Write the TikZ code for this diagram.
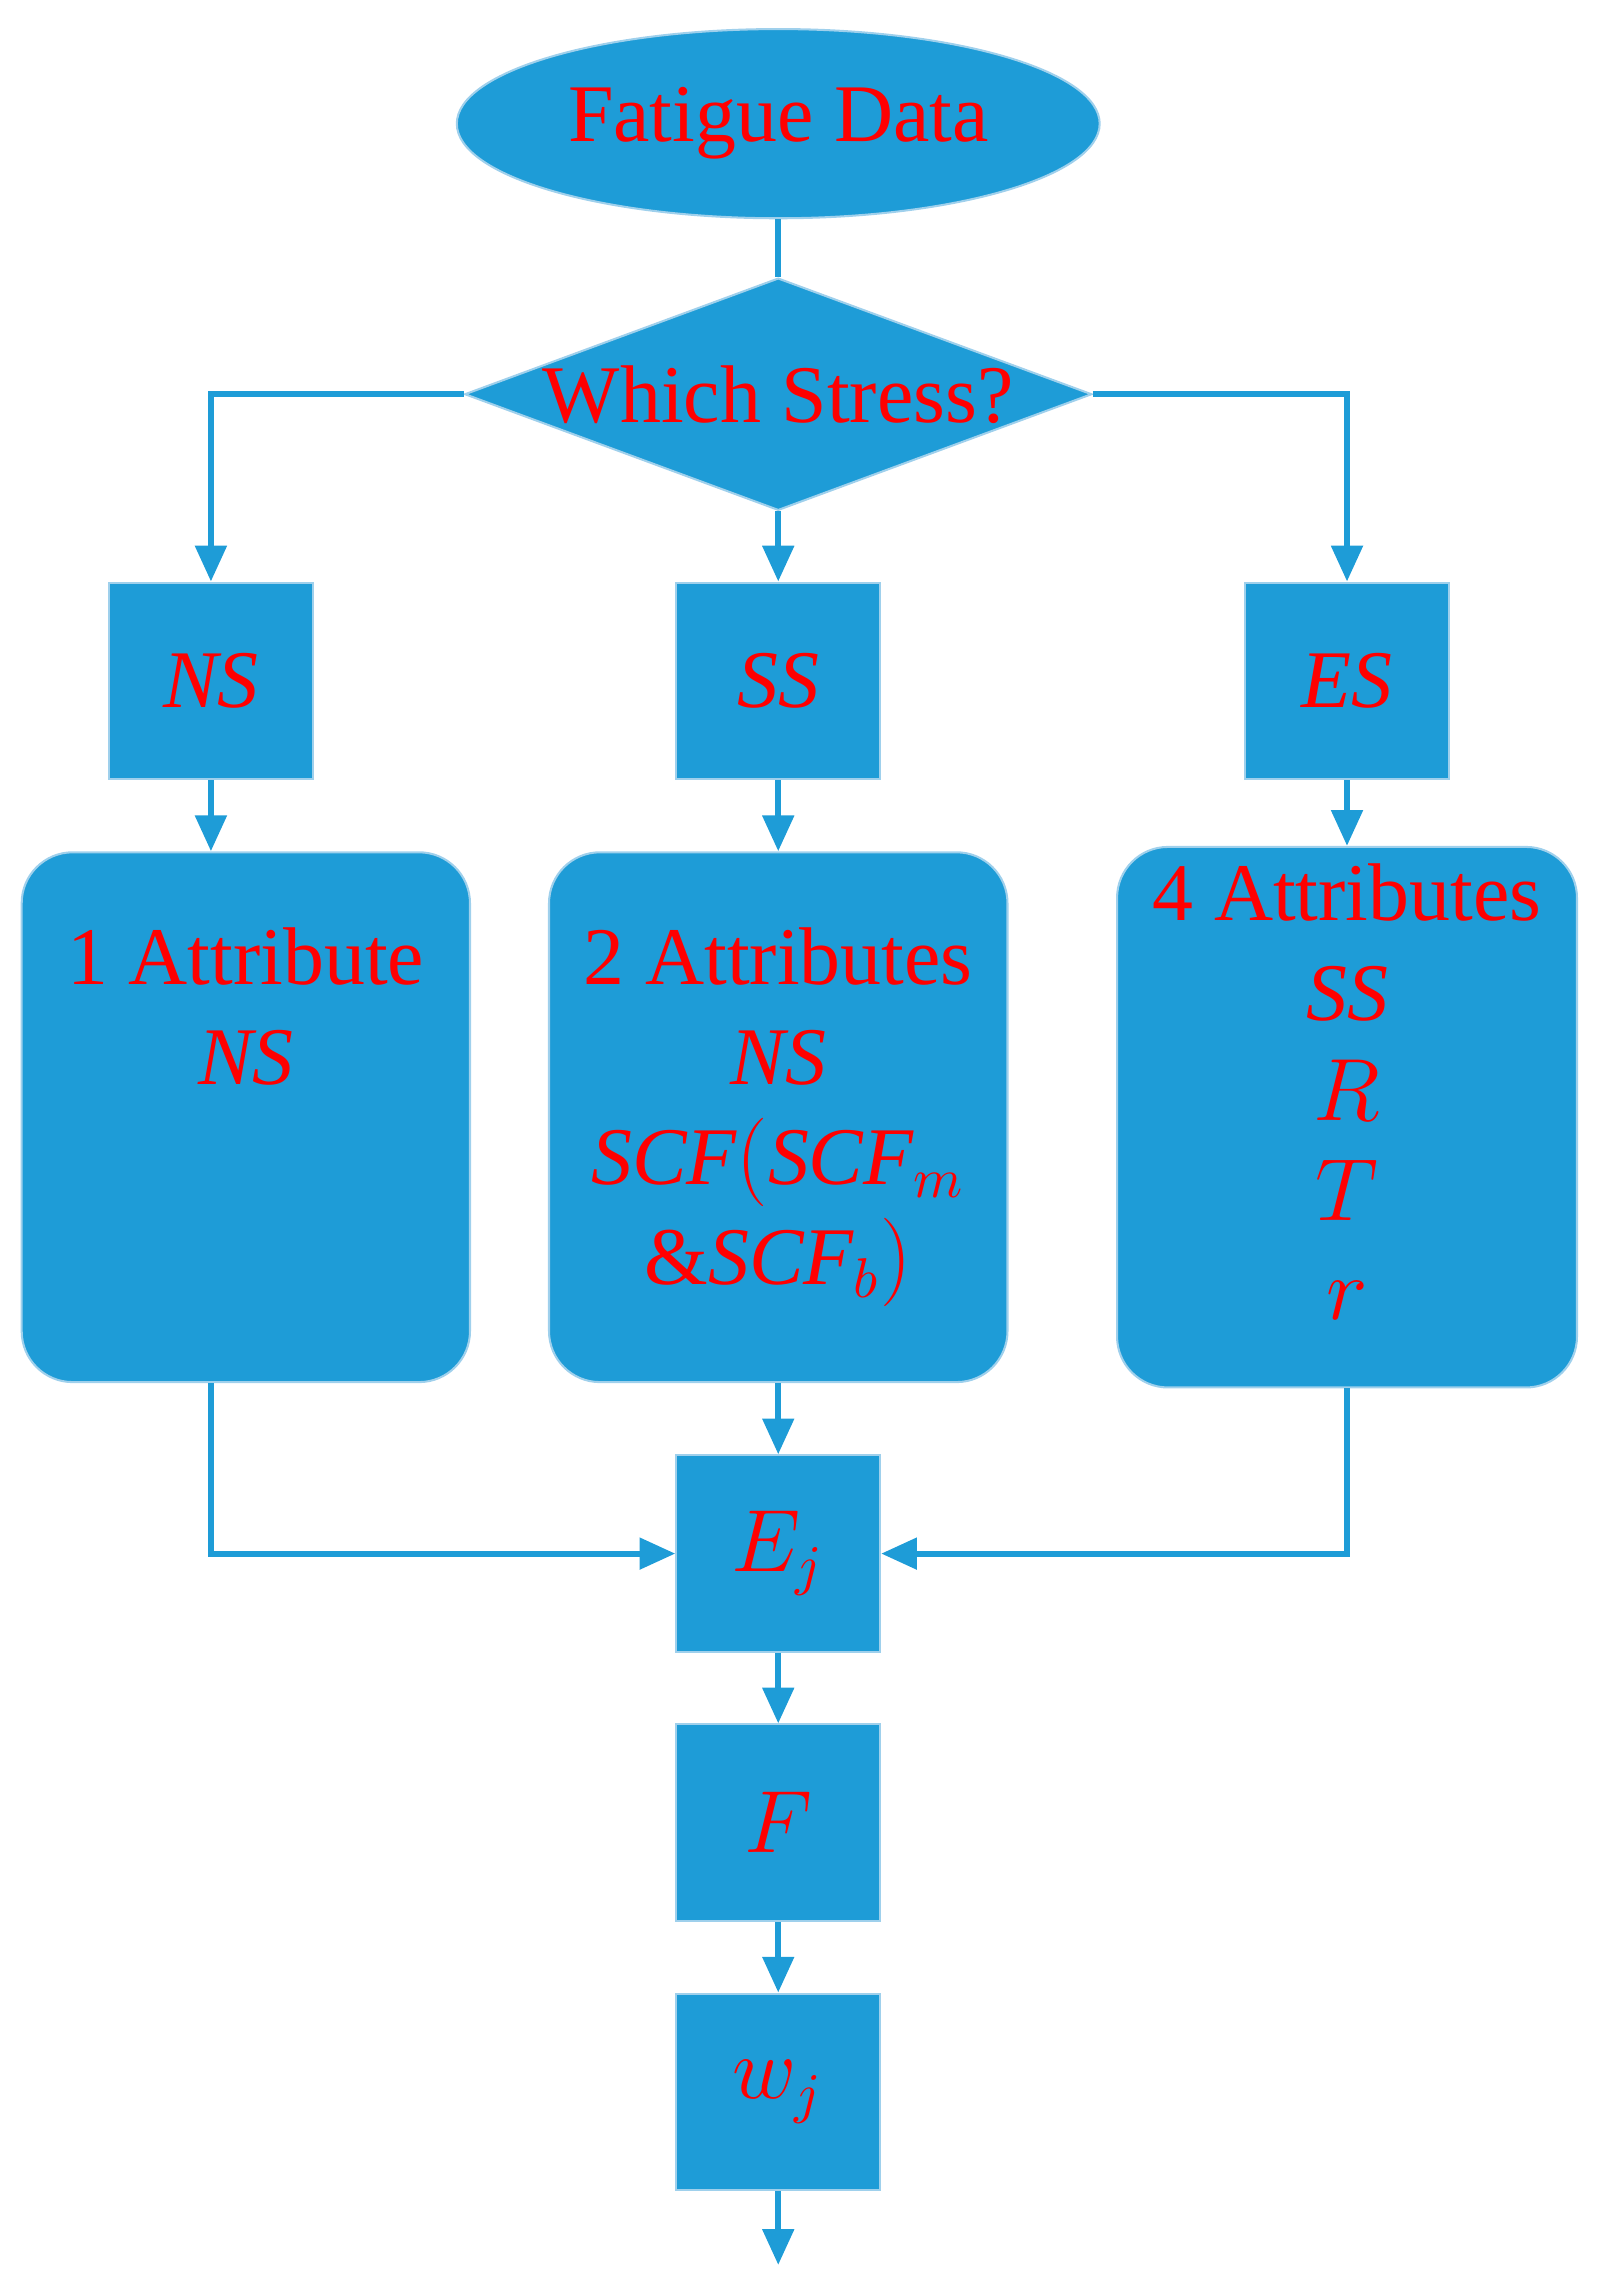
\documentclass[tikz,border=0pt]{standalone}
\usepackage{fontspec}
\setmainfont{Liberation Serif}
\usetikzlibrary{shapes.geometric,arrows.meta}
\definecolor{boxblue}{HTML}{1E9CD7}
\definecolor{edgeblue}{HTML}{9FD0EC}
\begin{document}
\begin{tikzpicture}[x=0.01cm, y=-0.01cm, font=\fontsize{16}{19.5}\selectfont,
    flow/.style={draw=boxblue, line width=1.2pt, -{Triangle[length=7pt,width=6pt]}},
    block/.style={rectangle, fill=boxblue, draw=edgeblue, text=red, minimum width=1.4cm, minimum height=1.35cm},
    attr node/.style={rectangle, rounded corners=0.35cm, fill=boxblue, draw=edgeblue, text=red, align=center, minimum height=3.64cm}]
    \useasboundingbox (0,0) rectangle (1100,1566);

    \node[ellipse, fill=boxblue, draw=edgeblue, text=red, minimum width=4.2cm, minimum height=1.3cm] (data) at (535,85) {Fatigue Data};
    \node[diamond, fill=boxblue, draw=edgeblue, text=red, aspect=2.7, minimum width=4.16cm, minimum height=1.54cm, inner sep=0pt] (stress) at (535,271) {Which Stress?};

    \node[block] (ns) at (145,468) {$\mathit{NS}$};
    \node[block] (ss) at (535,468) {$\mathit{SS}$};
    \node[block] (es) at (926,468) {$\mathit{ES}$};

    \node[attr node, minimum width=3.08cm] (a1) at (169,768) {1 Attribute\\$\mathit{NS}$\\[1.5em]};
    \node[attr node, minimum width=3.15cm] (a2) at (535,768) {2 Attributes\\$\mathit{NS}$\\$\mathit{SCF}(\mathit{SCF}_m$\\$\&\mathit{SCF}_b)$};
    \node[attr node, minimum width=3.16cm] (a4) at (926,768) {4 Attributes\\$\mathit{SS}$\\$R$\\$T$\\$r$\\[-0.6em]};

    \node[block] (ej) at (535,1068) {$E_j$};
    \node[block] (f) at (535,1253) {$F$};
    \node[block] (wj) at (535,1438) {$w_j$};
    \coordinate (out) at (535,1557);

    % Edges
    \draw[draw=boxblue, line width=1.2pt] (data) -- (stress);
    \draw[flow] (stress.west) -| (ns);
    \draw[flow] (stress.east) -| (es);
    \draw[flow] (stress) -- (ss);
    \draw[flow] (ns) -- (ns |- a1.north);
    \draw[flow] (ss) -- (a2);
    \draw[flow] (es) -- (a4);
    \draw[flow] (ns |- a1.south) |- (ej);
    \draw[flow] (a4) |- (ej);
    \draw[flow] (a2) -- (ej);
    \draw[flow] (ej) -- (f);
    \draw[flow] (f) -- (wj);
    \draw[flow] (wj) -- (out);
\end{tikzpicture}
\end{document}
